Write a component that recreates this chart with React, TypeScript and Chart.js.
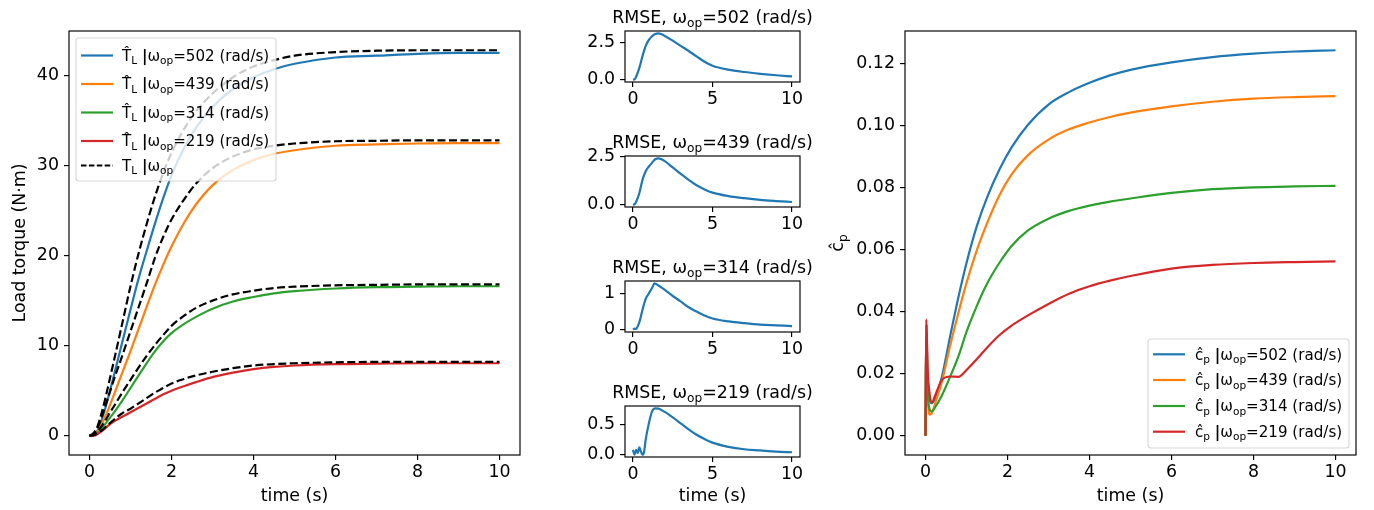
import React, { useEffect, useRef } from "react";
import { Chart, registerables } from "chart.js";
Chart.register(...registerables);

const FONT = "'DejaVu Sans', Verdana, sans-serif";
const FS = 17.4;
const LFS = 15.1;
const LW = 2.2;
const AXW = 1.17;
const TICK = 5;
const BLUE = "#1f77b4";
const ORANGE = "#ff7f0e";
const GREEN = "#2ca02c";
const RED = "#d62728";
const DASH = [8, 3.5];

// ---------------- data ----------------
const speeds = ["502", "439", "314", "219"];

const tTorque = [0, 0.1, 0.2, 0.3, 0.4, 0.5, 0.6, 0.8, 1.0, 1.2, 1.4, 1.6, 1.8, 2.0, 2.3, 2.6, 3.0, 3.5, 4.0, 4.5, 5.0, 6.0, 7.0, 8.0, 9.0, 10];
const estTorque502 = [0, 0.1, 0.6, 1.8, 3.3, 5.0, 6.8, 10.4, 14.0, 17.5, 20.6, 23.6, 26.4, 28.9, 31.9, 34.2, 36.5, 38.5, 39.8, 40.7, 41.3, 42.0, 42.2, 42.4, 42.5, 42.5];
const trueTorque502 = [0, 0.3, 1.1, 2.6, 4.4, 6.4, 8.4, 12.5, 16.6, 20.3, 23.6, 26.6, 29.2, 31.4, 34.0, 36.0, 38.0, 39.8, 41.0, 41.7, 42.2, 42.6, 42.75, 42.8, 42.8, 42.8];
const estTorque439 = [0, 0.1, 0.5, 1.3, 2.3, 3.4, 4.6, 7.0, 9.4, 11.9, 14.4, 16.8, 19.0, 21.0, 23.6, 25.7, 27.8, 29.5, 30.6, 31.3, 31.7, 32.2, 32.35, 32.45, 32.5, 32.5];
const trueTorque439 = [0, 0.2, 0.9, 2.1, 3.5, 4.9, 6.3, 8.9, 11.6, 14.3, 17.0, 19.8, 22.1, 24.0, 26.2, 28.0, 29.7, 31.0, 31.8, 32.2, 32.45, 32.7, 32.75, 32.8, 32.8, 32.8];
const estTorque314 = [0, 0.05, 0.3, 0.8, 1.4, 2.0, 2.6, 3.9, 5.3, 6.7, 8.1, 9.4, 10.5, 11.4, 12.4, 13.2, 14.1, 14.9, 15.4, 15.8, 16.05, 16.35, 16.5, 16.55, 16.6, 16.6];
const trueTorque314 = [0, 0.1, 0.5, 1.1, 1.8, 2.6, 3.3, 4.8, 6.2, 7.6, 8.9, 10.1, 11.2, 12.2, 13.3, 14.2, 15.0, 15.7, 16.1, 16.4, 16.55, 16.7, 16.75, 16.8, 16.8, 16.8];
const estTorque219 = [0, 0.0, 0.2, 0.5, 0.9, 1.3, 1.6, 2.1, 2.6, 3.1, 3.6, 4.1, 4.6, 5.0, 5.5, 5.95, 6.5, 7.0, 7.4, 7.65, 7.8, 7.95, 8.0, 8.05, 8.05, 8.05];
const trueTorque219 = [0, 0.05, 0.3, 0.6, 1.0, 1.4, 1.8, 2.5, 3.0, 3.6, 4.2, 4.8, 5.3, 5.8, 6.3, 6.7, 7.1, 7.5, 7.8, 7.95, 8.05, 8.15, 8.2, 8.2, 8.2, 8.2];

const tRmseA = [0, 0.1, 0.2, 0.4, 0.6, 0.8, 1.0, 1.2, 1.4, 1.6, 1.8, 2.0, 2.5, 3.0, 3.5, 4.0, 4.5, 5.0, 6.0, 7.0, 8.0, 9.0, 10];
const rmse502 = [0, 0.02, 0.2, 0.8, 1.6, 2.3, 2.7, 2.95, 3.1, 3.15, 3.08, 2.97, 2.65, 2.3, 1.95, 1.58, 1.22, 0.95, 0.68, 0.52, 0.4, 0.3, 0.22];
const rmse439 = [0, 0.02, 0.15, 0.6, 1.3, 1.75, 2.0, 2.2, 2.38, 2.43, 2.38, 2.28, 1.95, 1.62, 1.3, 1.02, 0.8, 0.63, 0.45, 0.34, 0.25, 0.19, 0.14];
const tRmse314 = [0, 0.1, 0.2, 0.3, 0.4, 0.6, 0.8, 1.0, 1.2, 1.35, 1.6, 1.8, 2.0, 2.5, 3.0, 3.5, 4.0, 4.5, 5.0, 6.0, 7.0, 8.0, 9.0, 10];
const rmse314 = [0, 0.03, 0.02, 0.1, 0.2, 0.55, 0.85, 1.0, 1.15, 1.28, 1.22, 1.16, 1.1, 0.93, 0.78, 0.62, 0.5, 0.39, 0.31, 0.23, 0.18, 0.14, 0.12, 0.1];
const tRmse219 = [0, 0.1, 0.2, 0.3, 0.4, 0.5, 0.6, 0.7, 0.8, 1.0, 1.2, 1.4, 1.6, 1.8, 2.0, 2.5, 3.0, 3.5, 4.0, 4.5, 5.0, 6.0, 7.0, 8.0, 9.0, 10];
const rmse219 = [0.08, 0.0, 0.08, 0.03, 0.12, 0.05, 0.0, 0.05, 0.25, 0.52, 0.72, 0.77, 0.765, 0.74, 0.71, 0.62, 0.52, 0.42, 0.33, 0.26, 0.2, 0.13, 0.09, 0.07, 0.05, 0.04];

const tCp = [0, 0.02, 0.05, 0.1, 0.15, 0.25, 0.4, 0.6, 0.8, 1.0, 1.25, 1.5, 1.8, 2.1, 2.5, 3.0, 3.5, 4.0, 4.5, 5.0, 6.0, 7.0, 8.0, 9.0, 10];
const cp502 = [0, 0.036, 0.02, 0.012, 0.0105, 0.0125, 0.019, 0.032, 0.0445, 0.0557, 0.0675, 0.0768, 0.0858, 0.093, 0.1003, 0.1068, 0.1108, 0.1138, 0.1162, 0.118, 0.1204, 0.1221, 0.1232, 0.1239, 0.1243];
const cp439 = [0, 0.036, 0.015, 0.0068, 0.0072, 0.011, 0.0175, 0.029, 0.0395, 0.0493, 0.0598, 0.0685, 0.0775, 0.0843, 0.0905, 0.0955, 0.0988, 0.101, 0.1028, 0.1042, 0.1062, 0.1077, 0.1087, 0.1092, 0.1095];
const cp314 = [0, 0.036, 0.016, 0.0085, 0.0078, 0.0095, 0.013, 0.019, 0.0255, 0.0335, 0.0418, 0.049, 0.0557, 0.0612, 0.0662, 0.07, 0.0725, 0.0742, 0.0755, 0.0765, 0.0783, 0.0795, 0.0801, 0.0804, 0.0806];
const cp219 = [0, 0.0375, 0.022, 0.0135, 0.0107, 0.0135, 0.018, 0.0191, 0.019, 0.0212, 0.0247, 0.0284, 0.0324, 0.0355, 0.0388, 0.0425, 0.0458, 0.0482, 0.05, 0.0515, 0.0539, 0.0551, 0.0557, 0.056, 0.0562];

const xTicksWide = [0, 2, 4, 6, 8, 10];
const xTicksSmall = [0, 5, 10];
const yTicksTorque = [0, 10, 20, 30, 40];
const yTicksCp = [0, 0.02, 0.04, 0.06, 0.08, 0.1, 0.12];
const yTicksRmse = [[0, 2.5], [0, 2.5], [0, 1], [0, 0.5]];

// ---------------- helpers ----------------
type Seg = { t: string; sub?: boolean; bold?: boolean };
type Area = { left: number; top: number; right: number; bottom: number };

function segFont(s: Seg, fs: number) {
  const size = s.sub ? fs * 0.7 : fs;
  return `${s.bold ? "bold " : ""}${size}px ${FONT}`;
}
function richWidth(ctx: CanvasRenderingContext2D, segs: Seg[], fs: number) {
  let w = 0;
  for (const s of segs) {
    ctx.font = segFont(s, fs);
    w += ctx.measureText(s.t).width;
  }
  return w;
}
function drawRich(ctx: CanvasRenderingContext2D, x: number, baseline: number, segs: Seg[], fs: number) {
  ctx.save();
  ctx.fillStyle = "#000";
  ctx.textAlign = "left";
  ctx.textBaseline = "alphabetic";
  let cx = x;
  for (const s of segs) {
    ctx.font = segFont(s, fs);
    ctx.fillText(s.t, cx, s.sub ? baseline + fs * 0.22 : baseline);
    cx += ctx.measureText(s.t).width;
  }
  ctx.restore();
}
function drawText(ctx: CanvasRenderingContext2D, text: string, x: number, y: number, rot = 0) {
  ctx.save();
  ctx.fillStyle = "#000";
  ctx.font = `${FS}px ${FONT}`;
  ctx.textAlign = "center";
  ctx.textBaseline = "middle";
  ctx.translate(x, y);
  ctx.rotate(rot);
  ctx.fillText(text, 0, 0);
  ctx.restore();
}
const omegaSegs = (w: string): Seg[] => [{ t: "ω" }, { t: "op", sub: true }, { t: `=${w} (rad/s)` }];
const estSegs = (w: string): Seg[] => [{ t: "T\u0302" }, { t: "L", sub: true }, { t: " " }, { t: "|", bold: true }, ...omegaSegs(w)];
const trueSegs: Seg[] = [{ t: "T" }, { t: "L", sub: true }, { t: " " }, { t: "|", bold: true }, { t: "ω" }, { t: "op", sub: true }];
const cpSegs = (w: string): Seg[] => [{ t: "ĉ" }, { t: "p", sub: true }, { t: " " }, { t: "|", bold: true }, ...omegaSegs(w)];

type LegItem = { segs: Seg[]; color: string; dash?: number[]; y: number };
function drawLegend(ctx: CanvasRenderingContext2D, box: { x: number; y: number; w: number; h: number }, items: LegItem[], hx0: number, hx1: number, tx: number) {
  ctx.save();
  const r = 3;
  const { x, y, w, h } = box;
  ctx.beginPath();
  ctx.moveTo(x + r, y);
  ctx.lineTo(x + w - r, y);
  ctx.arcTo(x + w, y, x + w, y + r, r);
  ctx.lineTo(x + w, y + h - r);
  ctx.arcTo(x + w, y + h, x + w - r, y + h, r);
  ctx.lineTo(x + r, y + h);
  ctx.arcTo(x, y + h, x, y + h - r, r);
  ctx.lineTo(x, y + r);
  ctx.arcTo(x, y, x + r, y, r);
  ctx.closePath();
  ctx.fillStyle = "rgba(255,255,255,0.8)";
  ctx.fill();
  ctx.strokeStyle = "rgba(204,204,204,0.8)";
  ctx.lineWidth = 1.1;
  ctx.stroke();
  for (const it of items) {
    ctx.beginPath();
    ctx.setLineDash(it.dash ?? []);
    ctx.strokeStyle = it.color;
    ctx.lineWidth = LW;
    ctx.moveTo(hx0, it.y);
    ctx.lineTo(hx1, it.y);
    ctx.stroke();
    ctx.setLineDash([]);
    drawRich(ctx, tx, it.y + LFS * 0.36, it.segs, LFS);
  }
  ctx.restore();
}
function autoLim(arrs: number[][]): [number, number] {
  const all = arrs.flat();
  const lo = Math.min(...all);
  const hi = Math.max(...all);
  const p = (hi - lo) * 0.05;
  return [lo - p, hi + p];
}

type LineSpec = { x: number[]; y: number[]; color: string; dash?: number[] };
type PanelSpec = {
  left: number; top: number; width: number; height: number;
  area: { l: number; t: number; r: number; b: number };
  xLim: [number, number]; yLim: [number, number];
  xTicks: number[]; yTicks: number[]; yFmt: (v: number) => string;
  lines: LineSpec[];
  decorate: (ctx: CanvasRenderingContext2D, a: Area) => void;
};

function Panel({ spec }: { spec: PanelSpec }) {
  const ref = useRef<HTMLCanvasElement>(null);
  useEffect(() => {
    const c = ref.current!;
    const a = spec.area;
    const n = spec.lines.length;
    const gridCfg = { display: true, drawOnChartArea: false, drawTicks: true, tickLength: TICK, color: "#000", lineWidth: AXW };
    const deco = {
      id: "deco",
      afterDatasetsDraw(chart: any) {
        const { ctx, chartArea } = chart;
        ctx.save();
        ctx.strokeStyle = "#000";
        ctx.lineWidth = AXW;
        ctx.strokeRect(chartArea.left, chartArea.top, chartArea.right - chartArea.left, chartArea.bottom - chartArea.top);
        ctx.restore();
      },
      afterDraw(chart: any) {
        spec.decorate(chart.ctx, chart.chartArea);
      },
    };
    const chart = new Chart(c, {
      type: "line",
      data: {
        datasets: spec.lines.map((ln, i) => ({
          data: ln.x.map((x, j) => ({ x, y: ln.y[j] })),
          borderColor: ln.color,
          borderWidth: LW,
          borderDash: ln.dash ?? [],
          pointRadius: 0,
          fill: false,
          cubicInterpolationMode: "monotone" as const,
          order: n - i,
        })),
      },
      options: {
        responsive: false,
        animation: false,
        devicePixelRatio: 1,
        events: [],
        layout: { padding: { top: a.t, right: spec.width - a.r, left: 0, bottom: 0 } },
        plugins: { legend: { display: false }, tooltip: { enabled: false }, title: { display: false } },
        scales: {
          x: {
            type: "linear",
            min: spec.xLim[0],
            max: spec.xLim[1],
            afterFit: (s: any) => { s.height = spec.height - a.b; },
            afterBuildTicks: (s: any) => { s.ticks = spec.xTicks.map((v) => ({ value: v })); },
            grid: gridCfg,
            border: { display: false },
            ticks: { color: "#000", font: { family: FONT, size: FS }, padding: 2, maxRotation: 0, autoSkip: false, callback: (v: any) => String(v) },
          },
          y: {
            type: "linear",
            min: spec.yLim[0],
            max: spec.yLim[1],
            afterFit: (s: any) => { s.width = a.l; },
            afterBuildTicks: (s: any) => { s.ticks = spec.yTicks.map((v) => ({ value: v })); },
            grid: gridCfg,
            border: { display: false },
            ticks: { color: "#000", font: { family: FONT, size: FS }, padding: 5, autoSkip: false, callback: (v: any) => spec.yFmt(Number(v)) },
          },
        },
      } as any,
      plugins: [deco],
    });
    return () => chart.destroy();
  }, []);
  return (
    <canvas
      ref={ref}
      width={spec.width}
      height={spec.height}
      style={{ position: "absolute", left: spec.left, top: spec.top, width: spec.width, height: spec.height }}
    />
  );
}

// ---------------- panels ----------------
const XLABEL_Y = 496;
const PLOT_TOP = 31;
const PLOT_BOTTOM = 455;

const torquePanel: PanelSpec = {
  left: 0, top: 0, width: 540, height: 510,
  area: { l: 69, t: PLOT_TOP, r: 520, b: PLOT_BOTTOM },
  xLim: [-0.5, 10.5],
  yLim: autoLim([estTorque502, trueTorque502, estTorque439, trueTorque439, estTorque314, trueTorque314, estTorque219, trueTorque219]),
  xTicks: xTicksWide, yTicks: yTicksTorque, yFmt: (v) => String(Math.round(v)),
  lines: [
    { x: tTorque, y: estTorque502, color: BLUE },
    { x: tTorque, y: trueTorque502, color: "#000", dash: DASH },
    { x: tTorque, y: estTorque439, color: ORANGE },
    { x: tTorque, y: trueTorque439, color: "#000", dash: DASH },
    { x: tTorque, y: estTorque314, color: GREEN },
    { x: tTorque, y: trueTorque314, color: "#000", dash: DASH },
    { x: tTorque, y: estTorque219, color: RED },
    { x: tTorque, y: trueTorque219, color: "#000", dash: DASH },
  ],
  decorate: (ctx, a) => {
    drawText(ctx, "time (s)", (a.left + a.right) / 2, XLABEL_Y);
    drawText(ctx, "Load torque (N·m)", 20, (a.top + a.bottom) / 2, -Math.PI / 2);
    drawLegend(ctx, { x: 76, y: 38, w: 200, h: 143 }, [
      { segs: estSegs(speeds[0]), color: BLUE, y: 55.5 },
      { segs: estSegs(speeds[1]), color: ORANGE, y: 84 },
      { segs: estSegs(speeds[2]), color: GREEN, y: 112.5 },
      { segs: estSegs(speeds[3]), color: RED, y: 141 },
      { segs: trueSegs, color: "#000", dash: [5.5, 2.4], y: 165.5 },
    ], 81, 113, 122);
  },
};

const rmseData = [
  { t: tRmseA, v: rmse502 },
  { t: tRmseA, v: rmse439 },
  { t: tRmse314, v: rmse314 },
  { t: tRmse219, v: rmse219 },
];
const rmseTops = [31, 156, 281, 406];
const rmseFmt = [(v: number) => v.toFixed(1), (v: number) => v.toFixed(1), (v: number) => String(Math.round(v)), (v: number) => v.toFixed(1)];

const rmsePanels: PanelSpec[] = rmseData.map((d, i) => {
  const top = rmseTops[i] - 31;
  const height = i === 3 ? 510 - top : 125;
  return {
    left: 560, top, width: 260, height,
    area: { l: 65, t: 31, r: 240, b: 31 + 51 },
    xLim: [-0.5, 10.5],
    yLim: autoLim([d.v]),
    xTicks: xTicksSmall, yTicks: yTicksRmse[i], yFmt: rmseFmt[i],
    lines: [{ x: d.t, y: d.v, color: BLUE }],
    decorate: (ctx, a) => {
      const segs: Seg[] = [{ t: "RMSE, " }, ...omegaSegs(speeds[i])];
      const w = richWidth(ctx, segs, FS);
      drawRich(ctx, (a.left + a.right) / 2 - w / 2, a.top - 14 + FS * 0.36, segs, FS);
      if (i === 3) drawText(ctx, "time (s)", (a.left + a.right) / 2, XLABEL_Y - top);
    },
  };
});

const CP_LEFT = 820;
const cpPanel: PanelSpec = {
  left: CP_LEFT, top: 0, width: 1374 - CP_LEFT, height: 510,
  area: { l: 905 - CP_LEFT, t: PLOT_TOP, r: 1356 - CP_LEFT, b: PLOT_BOTTOM },
  xLim: [-0.5, 10.5],
  yLim: autoLim([cp502, cp439, cp314, cp219]),
  xTicks: xTicksWide, yTicks: yTicksCp, yFmt: (v) => v.toFixed(2),
  lines: [
    { x: tCp, y: cp502, color: BLUE },
    { x: tCp, y: cp439, color: ORANGE },
    { x: tCp, y: cp314, color: GREEN },
    { x: tCp, y: cp219, color: RED },
  ],
  decorate: (ctx, a) => {
    drawText(ctx, "time (s)", (a.left + a.right) / 2, XLABEL_Y);
    const segs: Seg[] = [{ t: "ĉ" }, { t: "p", sub: true }];
    const w = richWidth(ctx, segs, FS);
    ctx.save();
    ctx.translate(838 - CP_LEFT, (a.top + a.bottom) / 2);
    ctx.rotate(-Math.PI / 2);
    drawRich(ctx, -w / 2, FS * 0.3, segs, FS);
    ctx.restore();
    const ox = CP_LEFT;
    drawLegend(ctx, { x: 1148 - ox, y: 339, w: 201, h: 109 }, [
      { segs: cpSegs(speeds[0]), color: BLUE, y: 354.3 },
      { segs: cpSegs(speeds[1]), color: ORANGE, y: 380 },
      { segs: cpSegs(speeds[2]), color: GREEN, y: 406 },
      { segs: cpSegs(speeds[3]), color: RED, y: 431.7 },
    ], 1153 - ox, 1185 - ox, 1195 - ox);
  },
};

export default function App() {
  return (
    <div style={{ position: "absolute", left: 0, top: 0, width: 1374, height: 510, background: "#fff", overflow: "hidden" }}>
      <Panel spec={torquePanel} />
      {rmsePanels.map((p, i) => <Panel key={i} spec={p} />)}
      <Panel spec={cpPanel} />
    </div>
  );
}
